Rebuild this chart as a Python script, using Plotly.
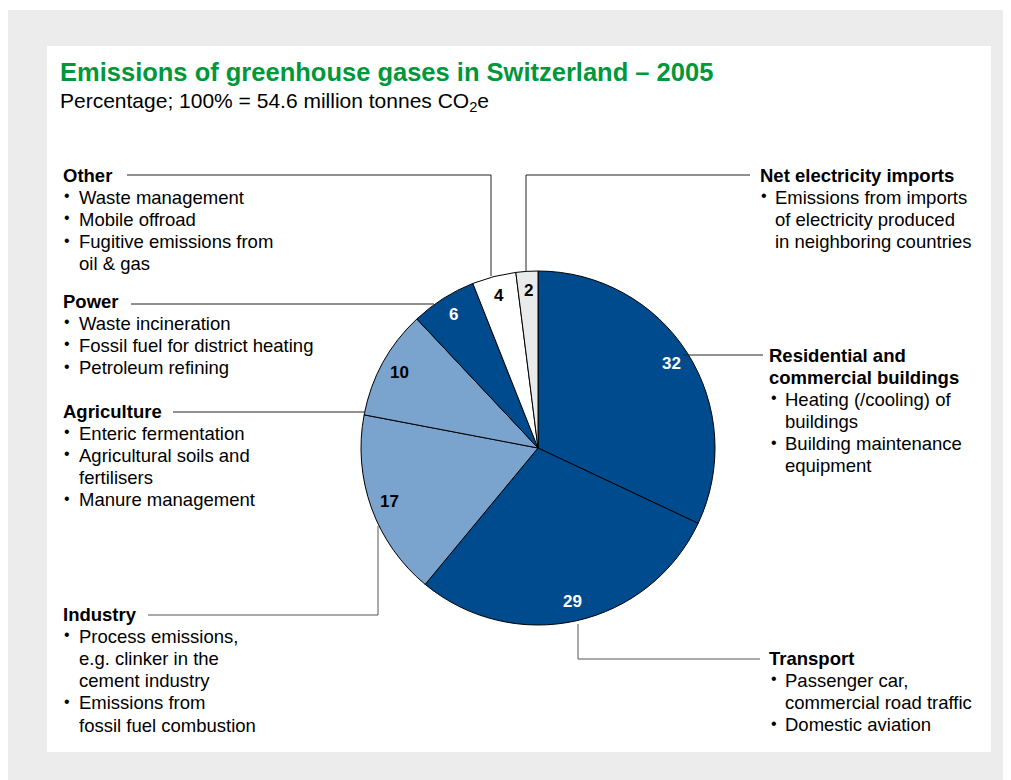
import math
import plotly.graph_objects as go

W, H = 1003, 772   # figure size; the page body adds an 8px margin
OFF = 8

# ---- data ----
categories = ["Residential and commercial buildings", "Transport", "Industry",
              "Agriculture", "Power", "Other", "Net electricity imports"]
values = [32, 29, 17, 10, 6, 4, 2]
slice_colors = ["#004a8e", "#004a8e", "#7aa3ce", "#7aa3ce", "#004a8e", "#ffffff", "#e9ebea"]
value_text_colors = ["white", "white", "black", "black", "white", "black", "black"]

title = "Emissions of greenhouse gases in Switzerland – 2005"
subtitle = "Percentage; 100% = 54.6 million tonnes CO<sub>2</sub>e"

left_blocks = [
    (["Other"], [["Waste management"], ["Mobile offroad"], ["Fugitive emissions from", "oil & gas"]]),
    (["Power"], [["Waste incineration"], ["Fossil fuel for district heating"], ["Petroleum refining"]]),
    (["Agriculture"], [["Enteric fermentation"], ["Agricultural soils and", "fertilisers"], ["Manure management"]]),
    (["Industry"], [["Process emissions,", "e.g. clinker in the", "cement industry"], ["Emissions from", "fossil fuel combustion"]]),
]
right_blocks = [
    (["Net electricity imports"], [["Emissions from imports", "of electricity produced", "in neighboring countries"]]),
    (["Residential and", "commercial buildings"], [["Heating (/cooling) of", "buildings"], ["Building maintenance", "equipment"]]),
    (["Transport"], [["Passenger car,", "commercial road traffic"], ["Domestic aviation"]]),
]

# ---- geometry helpers (screen pixel -> paper) ----
def px(x):
    return (x - OFF) / W

def py(y):
    return 1 - (y - OFF) / H

cx, cy, R = 538, 448, 177
FONT = "Liberation Sans, Arial, sans-serif"
FS = 18.5
LH = 22.2

fig = go.Figure()
fig.add_trace(go.Pie(
    labels=categories, values=values, sort=False, direction="clockwise", rotation=0,
    marker=dict(colors=slice_colors, line=dict(color="black", width=1)),
    textinfo="none", hoverinfo="label+value", showlegend=False,
    domain=dict(x=[px(cx - R), px(cx + R)], y=[py(cy + R), py(cy - R)]),
))

shapes = [
    dict(type="rect", xref="paper", yref="paper", x0=px(8), x1=1.0, y0=0.0, y1=py(10),
         fillcolor="#ebeceb", line=dict(width=0), layer="below"),
    dict(type="rect", xref="paper", yref="paper", x0=px(47), x1=px(991), y0=py(752), y1=py(46),
         fillcolor="white", line=dict(width=0), layer="below"),
]

def seg(pts, color="#222"):
    for (x0, y0), (x1, y1) in zip(pts[:-1], pts[1:]):
        shapes.append(dict(type="line", xref="paper", yref="paper",
                           x0=px(x0), y0=py(y0), x1=px(x1), y1=py(y1),
                           line=dict(color=color, width=1)))

# connector lines
seg([(127, 175), (491, 175), (491, 276)])
seg([(750, 175), (526, 175), (526, 272)])
seg([(131, 304), (434, 304)])
seg([(173, 412), (365, 412)])
seg([(148, 615), (378, 615), (378, 526)], "#555")
seg([(578, 624), (578, 659), (760, 659)], "#555")
seg([(683, 355), (763, 355)])

annotations = []

def text(x, y, s, size=FS, bold=False, color="black", xanchor="left"):
    annotations.append(dict(
        xref="paper", yref="paper", x=px(x), y=py(y), text=("<b>%s</b>" % s) if bold else s,
        showarrow=False, xanchor=xanchor, yanchor="middle",
        font=dict(family=FONT, size=size, color=color)))

text(58, 72, title, size=25.5, bold=True, color="#00983a")
text(58, 102, subtitle, size=21)

def block(x_head, x_bullet, x_text, y0, block_def):
    heads, bullets = block_def
    y = y0
    for h in heads:
        text(x_head, y, h, bold=True)
        y += LH
    for item in bullets:
        text(x_bullet, y - 1.5, "•", size=16)
        for line in item:
            text(x_text, y, line)
            y += LH

left_y = [175, 301, 411, 614]
for yb, b in zip(left_y, left_blocks):
    block(61, 62, 77, yb, b)

right_pos = [(758, 759, 773, 175), (767, 769, 783, 355), (767, 769, 783, 658)]
for (xh, xb, xt, yb), b in zip(right_pos, right_blocks):
    block(xh, xb, xt, yb, b)

# value labels inside slices, placed from cumulative values
total = sum(values)
cum = 0
for v, tc in zip(values, value_text_colors):
    mid = (cum + v / 2) / total * 2 * math.pi
    cum += v
    r = 0.89 * R
    x = cx + r * math.sin(mid)
    y = cy - r * math.cos(mid)
    text(x, y, str(v), size=17, bold=True, color=tc, xanchor="center")

fig.update_layout(
    width=W, height=H, margin=dict(l=0, r=0, t=0, b=0),
    paper_bgcolor="white", plot_bgcolor="white",
    shapes=shapes, annotations=annotations,
)
fig.write_html("out.html")
